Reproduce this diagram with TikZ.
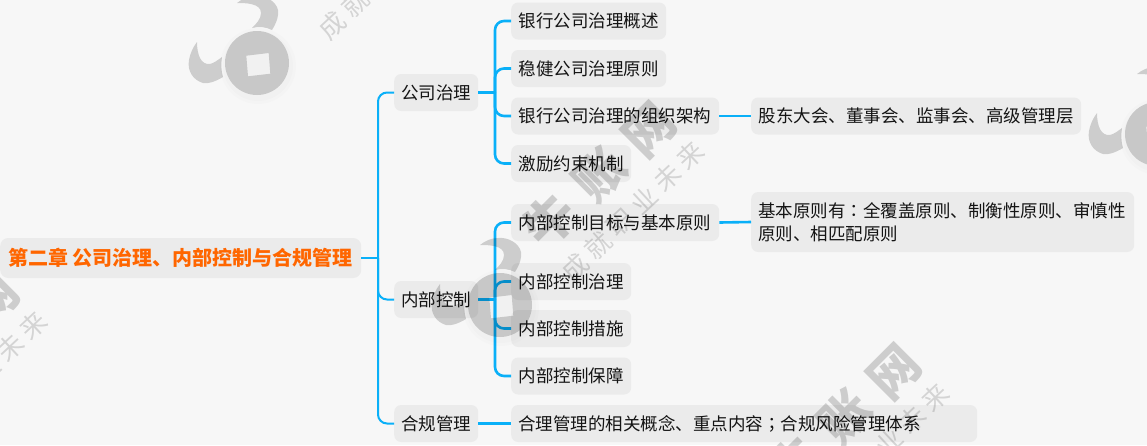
\documentclass[tikz,border=0pt]{standalone}
\usepackage{fontspec}
\setmainfont{Noto Sans CJK SC}
\newfontfamily\tcfont{Noto Sans CJK TC}
\definecolor{bgc}{HTML}{F7F7F7}
\definecolor{boxc}{HTML}{EBEBEB}
\definecolor{linec}{HTML}{0AB0F8}
\definecolor{orangec}{HTML}{FF6600}
\definecolor{textc}{HTML}{141414}
\newcommand{\wmark}[3]{%
\begin{scope}[shift={(#2,#3)}]
  \fill[black,opacity=.012] (1,3) circle[radius=38];
  \fill[black,opacity=.012] (1,3) circle[radius=35];
  \fill[black,opacity=.17,even odd rule] (0,0) circle[radius=32]
     (-10.7,-7.3) -- (11.7,-10) -- (13.3,10.7) -- (-9,13.3) -- cycle;
  \fill[black,opacity=.17] (-60,-21) .. controls (-60,-8) and (-56,2) .. (-47,1)
     .. controls (-43,0) and (-39,-3) .. (-35,-6)
     .. controls (-36,0) and (-36,8) .. (-34,14)
     .. controls (-42,19) and (-50,21) .. (-54,20)
     .. controls (-64,17) and (-70,8) .. (-68,-3)
     .. controls (-67,-9) and (-64,-16) .. cycle;
  \fill[black,opacity=.17] (-20,-60) .. controls (-12,-60) and (4,-60) .. (4,-50)
     .. controls (4,-44) and (-1,-39) .. (-5,-35)
     .. controls (2,-37) and (9,-36) .. (15,-33)
     .. controls (20,-41) and (22,-48) .. (21,-53)
     .. controls (19,-62) and (8,-68) .. (-2,-67)
     .. controls (-9,-67) and (-15,-64) .. cycle;
  \node[wmbig,rotate=45] (wm#1a) at (50,-85) {牛};
  \node[wmbig,rotate=45] (wm#1b) at (100,-130) {账};
  \node[wmbig,rotate=45] (wm#1c) at (150,-175) {网};
  \node[wmtext,rotate=43] (wm#1d) at (75,-38) {成};
  \node[wmtext,rotate=43] (wm#1e) at (98,-60) {就};
  \node[wmtext,rotate=43] (wm#1f) at (121,-82) {职};
  \node[wmtext,rotate=43] (wm#1g) at (144,-105) {业};
  \node[wmtext,rotate=43] (wm#1h) at (167,-128) {未};
  \node[wmtext,rotate=43] (wm#1i) at (190,-150) {来};
\end{scope}}
\tikzset{
  tbox/.style={fill=boxc,rounded corners=7,inner sep=0pt,anchor=west,text=textc,
    font=\fontsize{17.5}{23}\selectfont,minimum height=37},
  rootbox/.style={fill=boxc,rounded corners=8,inner sep=0pt,anchor=west,text=orangec,
    font=\fontsize{20}{24}\selectfont\bfseries,minimum height=40},
  link/.style={draw=linec,line width=2.6},
  toplink/.style={draw=linec,line width=2},
  curvelink/.style={link,rounded corners=9},
  topcurve/.style={toplink,rounded corners=9},
  wmbig/.style={text=black,text opacity=.17,inner sep=0pt,font=\fontsize{50}{50}\selectfont\bfseries},
  wmtext/.style={text=black,text opacity=.14,inner sep=0pt,font=\fontsize{26}{26}\selectfont},
}
\begin{document}
\begin{tikzpicture}[x=1pt,y=-1pt]
\useasboundingbox (0,0) rectangle (1147,445);
\fill[bgc] (0,0) rectangle (1147,445);
\coordinate (tr0) at (378,258);
\coordinate (tr1) at (495,92);
\coordinate (tr2) at (495,299);

\node[rootbox,minimum width=361] (root) at (0,258) {第二章 公司治理、内部控制与合规管理};

\node[tbox,minimum width=84] (gs) at (394,92.5) {公司治理};
\node[tbox,minimum width=84] (nb) at (394,299.5) {内部控制};
\node[tbox,minimum width=84] (hg) at (394,423.5) {合规管理};

\node[tbox,minimum width=155] (a1) at (511,21) {银行公司治理概述};
\node[tbox,minimum width=155] (a2) at (511,68.5) {稳健公司治理原则};
\node[tbox,minimum width=208] (a3) at (511,116) {银行公司治理的组织架构};
\node[tbox,minimum width=120] (a4) at (511,163.5) {激励约束机制};
\node[tbox,minimum width=330] (a3x) at (751,116) {股东大会、董事会、监事会、高级管理层};

\node[tbox,minimum width=208] (b1) at (511,222.5) {内部控制目标与基本原则};
\node[tbox,minimum width=120] (b2) at (511,281.5) {内部控制治理};
\node[tbox,minimum width=120] (b3) at (511,328.5) {内部控制措施};
\node[tbox,minimum width=120] (b4) at (511,376) {内部控制保障};
\node[tbox,minimum width=383,minimum height=60,text width=369,align=left] (b1x) at (751,222)
  {基本原则有{\tcfont ：}全覆盖原则、制衡性原则、审慎性\\原则、相匹配原则};

\node[tbox,minimum width=466,text width=452,align=left] (c1) at (511,423.5) {合理管理的相关概念、重点内容{\tcfont ；}合规风险管理体系};

\draw[toplink] (root.east) -- (tr0);
\draw[topcurve] (tr0) -- (tr0 |- gs.west) -- (gs.west);
\draw[topcurve] (tr0) -- (tr0 |- nb.west) -- (nb.west);
\draw[topcurve] (tr0) -- (tr0 |- hg.west) -- (hg.west);

\draw[link] (gs.east) -- (tr1 |- gs.east);
\draw[curvelink] (tr1) -- (tr1 |- a1.west) -- (a1.west);
\draw[curvelink] (tr1) -- (tr1 |- a2.west) -- (a2.west);
\draw[curvelink] (tr1) -- (tr1 |- a3.west) -- (a3.west);
\draw[curvelink] (tr1) -- (tr1 |- a4.west) -- (a4.west);
\draw[link] (a3.east) -- (a3x.west);

\draw[link] (nb.east) -- (tr2 |- nb.east);
\draw[curvelink] (tr2) -- (tr2 |- b1.west) -- (b1.west);
\draw[curvelink] (tr2) -- (tr2 |- b2.west) -- (b2.west);
\draw[curvelink] (tr2) -- (tr2 |- b3.west) -- (b3.west);
\draw[curvelink] (tr2) -- (tr2 |- b4.west) -- (b4.west);
\draw[link] (b1.east) -- (b1x.west);

\draw[link] (hg.east) -- (c1.west);

\begin{scope}
\clip (0,0) rectangle (1147,445);
\wmark{A}{257}{63}
\wmark{B}{500}{305}
\wmark{C}{1157}{134}
\wmark{D}{-157}{475}
\wmark{E}{745}{547}
\end{scope}
\end{tikzpicture}
\end{document}
